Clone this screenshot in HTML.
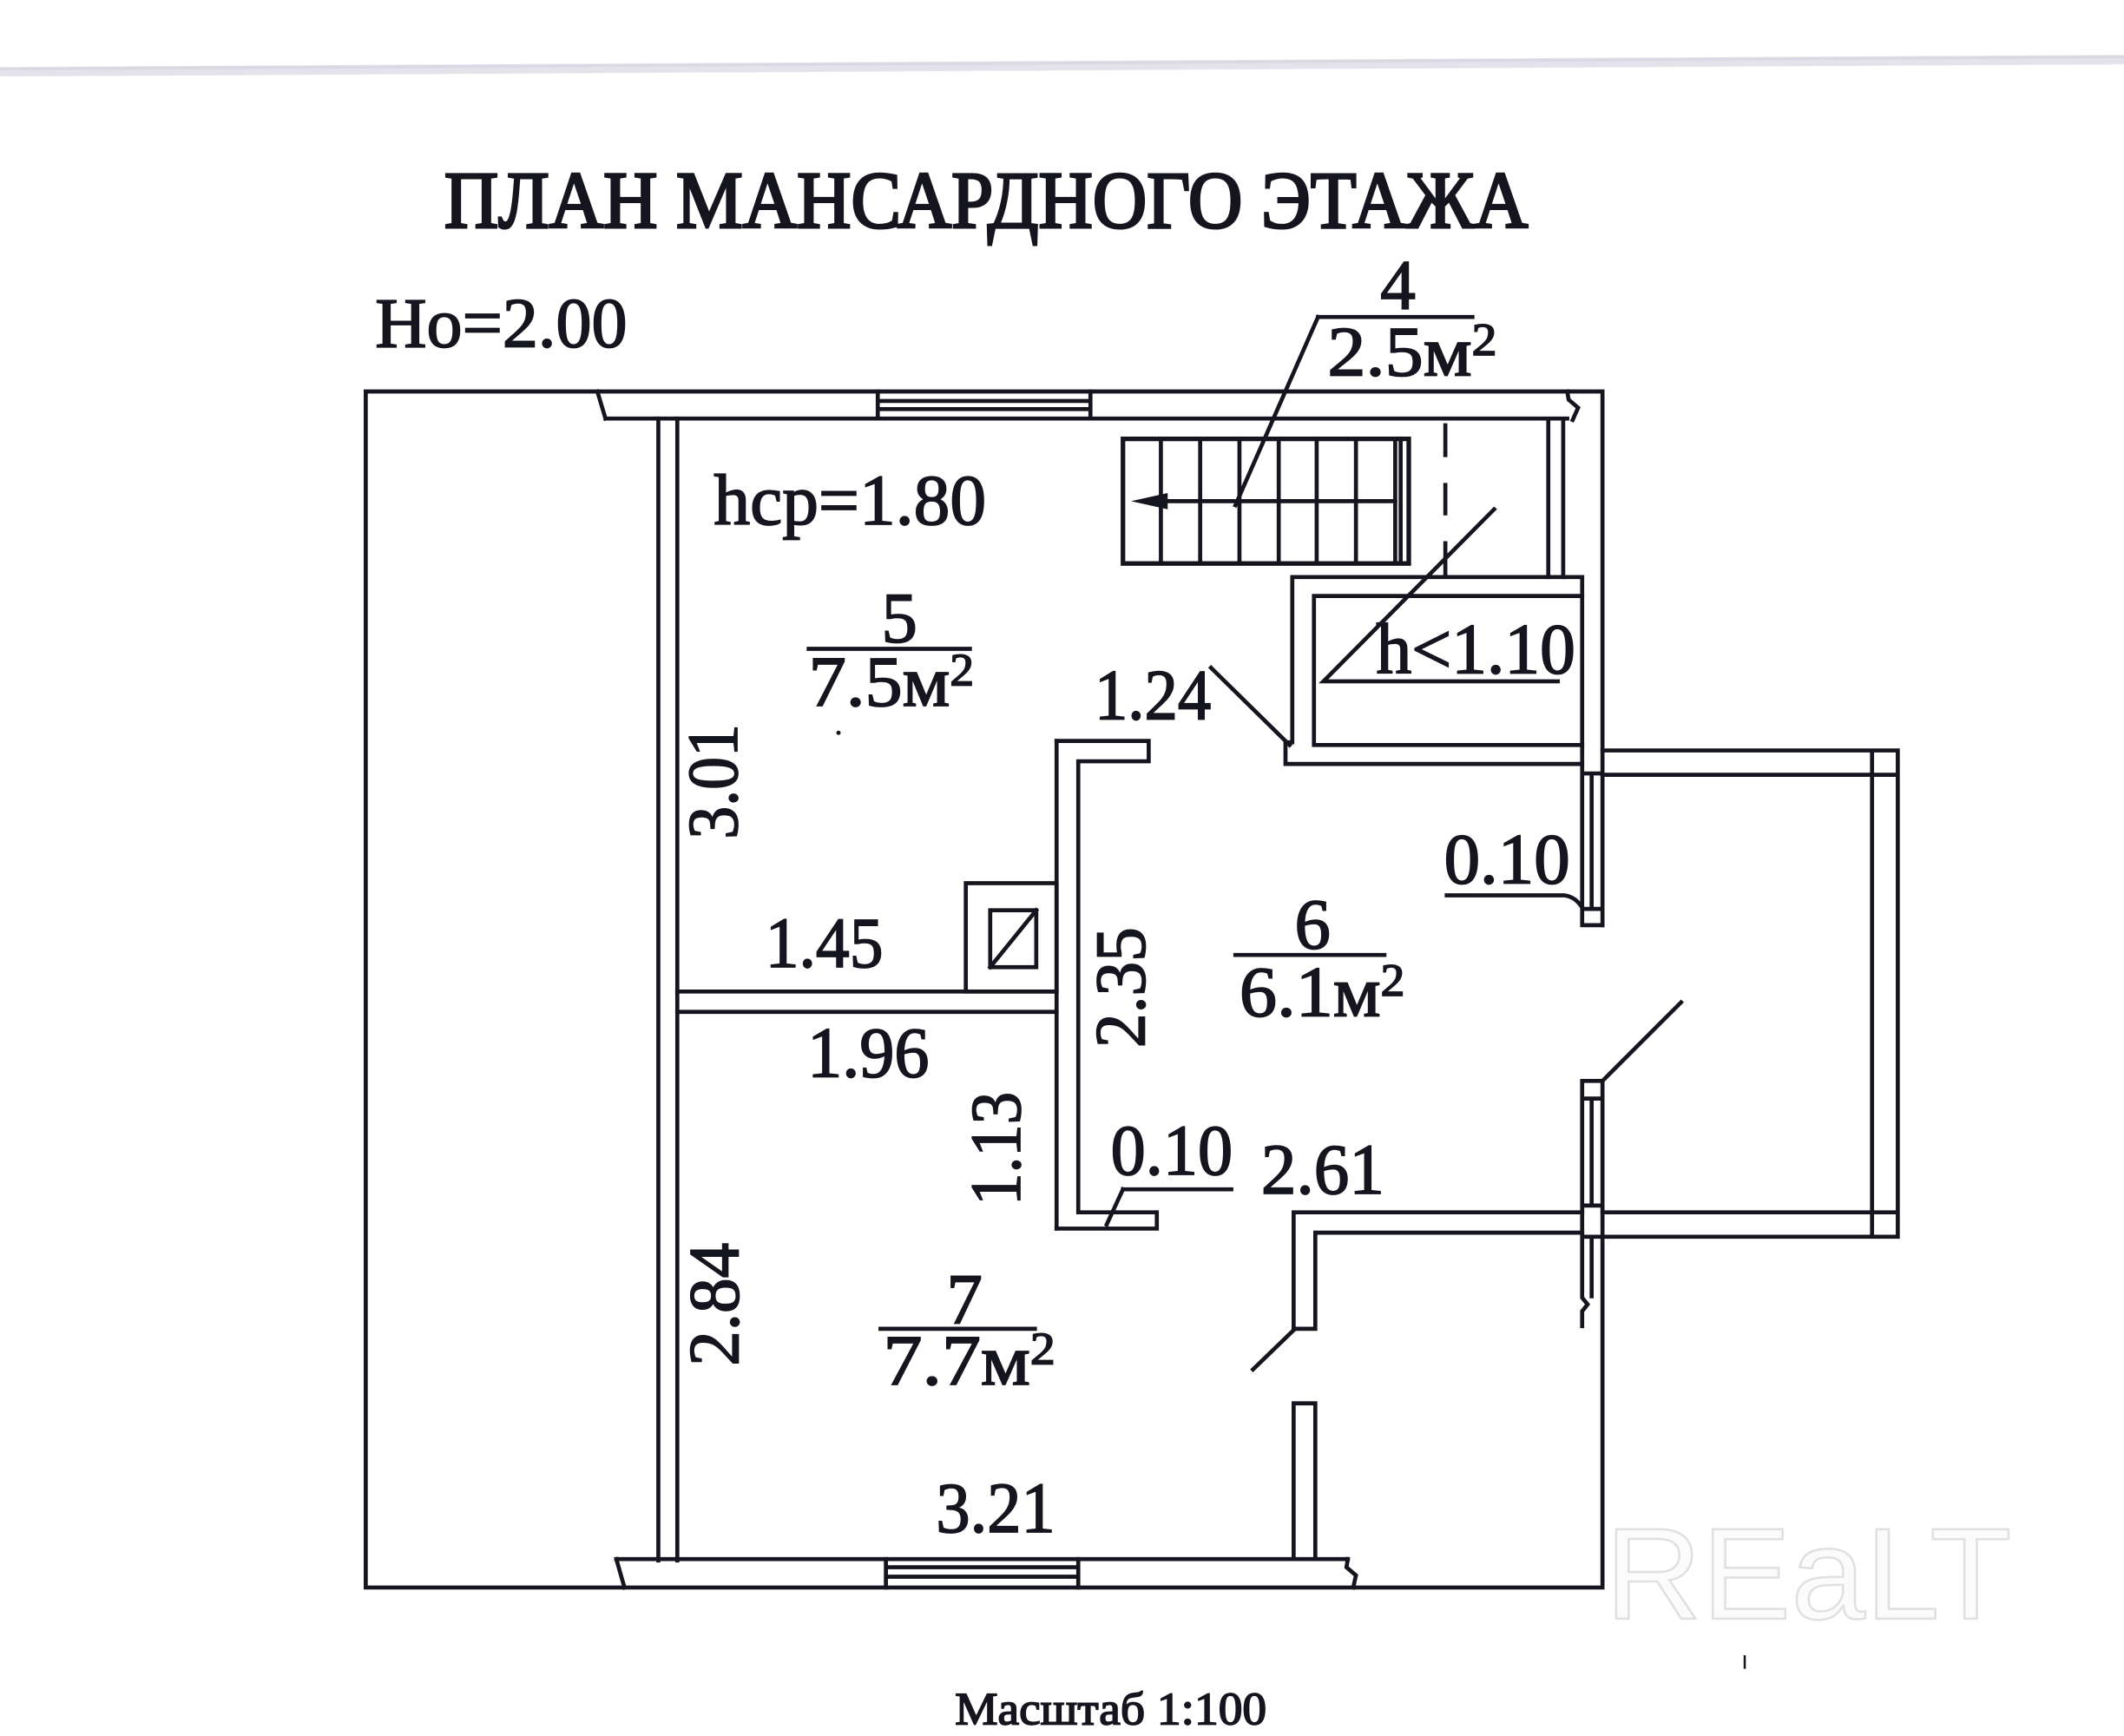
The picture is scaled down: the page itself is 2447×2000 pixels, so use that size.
<!DOCTYPE html>
<html>
<head>
<meta charset="utf-8">
<style>
html,body{margin:0;padding:0;background:#fff;}
svg{display:block;}
text{font-family:"Liberation Serif","DejaVu Serif",serif;fill:#15151f;stroke:#15151f;stroke-width:1.1;}
</style>
</head>
<body>
<svg width="2447" height="2000" viewBox="0 0 1568 1281.6" preserveAspectRatio="none" xmlns="http://www.w3.org/2000/svg">
<rect x="0" y="0" width="1568" height="1281.6" fill="#fff"/>
<!-- scan edge band -->
<path d="M0 53 L1568 44" stroke="#e4e3ec" stroke-width="7" fill="none"/>
<path d="M0 51 L1568 42" stroke="#d9d8e3" stroke-width="2" fill="none"/>

<!-- watermark -->
<text x="1185" y="1195" style="font-family:'Liberation Sans',sans-serif;fill:#fbfbfb;stroke:#e0e0e0;stroke-width:1.6" font-size="96" textLength="300" lengthAdjust="spacingAndGlyphs">REaLT</text>

<!-- Title -->
<text x="328" y="168" font-size="60" textLength="800" lengthAdjust="spacingAndGlyphs" style="stroke-width:2">ПЛАН МАНСАРДНОГО ЭТАЖА</text>
<text x="277" y="256" font-size="52" textLength="186" lengthAdjust="spacingAndGlyphs">Ho=2.00</text>

<g stroke="#15151f" stroke-width="3" fill="none" stroke-linecap="square" stroke-linejoin="miter">
  <!-- outer -->
  <path d="M270 289 H1183 M270 289 V1172 H1183 M1183 289 V683 M1183 798 V1172"/>
  <!-- top wall -->
  <path d="M447 309 H1157 M441 289 L447 309"/>
  <path d="M1157 289 L1158 295 L1165 301 L1161 310"/>
  <path d="M648 289 V309 M805 289 V309 M648 296 H805 M648 302 H805"/>
  <!-- left inner wall -->
  <path d="M486 309 V1152 M500 309 V1152"/>
  <!-- bottom wall -->
  <path d="M455 1151 H995 M455 1151 L461 1172"/>
  <path d="M995 1151 L994 1157 L1001 1163 L999 1172"/>
  <path d="M654 1151 V1172 M796 1151 V1172 M654 1157 H796 M654 1164 H796"/>
  <!-- partition 5/6/7 -->
  <path d="M780 547 V907"/>
  <path d="M780 547 H848 V562 H796 V895 H854 V907 H780"/>
  <path d="M500 732 H780 M500 747 H780"/>
  <rect x="713" y="652" width="67" height="80"/>
  <rect x="731" y="672" width="34" height="42"/>
  <path d="M731 714 L765 672"/>
  <!-- room 7 right partition -->
  <path d="M955 1151 V1036 H971 V1151"/>
  <path d="M971 981 V910 H1168 M955 981 V895 H1168 M955 981 H971"/>
  <path d="M955 982 L925 1011"/>
  <!-- column B -->
  <path d="M1168 798 H1183 M1168 798 V958 L1172 963 L1168 968 V979 M1168 811 H1183 M1175 811 V890 M1168 890 H1183 M1168 913 H1183 M1175 913 V957"/>
  <!-- column A -->
  <path d="M1168 426 V683 H1183 M1168 571 H1183 M1168 671 H1183 M1175 571 V671"/>
  <!-- balcony -->
  <path d="M1183 554 H1401 V913 H1183 M1183 572 H1401 M1183 895 H1401 M1382 554 V913"/>
  <path d="M1183 798 L1241 740"/>
  <!-- small room h<1.10 -->
  <path d="M1168 426 H954 V548 H949 V564 H1168"/>
  <path d="M1168 440 H970 V550 H1168"/>
  <!-- wall right of stair -->
  <path d="M1143 310 V426 M1154 310 V426"/>
  <!-- dashed -->
  <path d="M1067 314 V336 M1067 358 V379 M1067 401 V424"/>
  <!-- stairs -->
  <rect x="829" y="324" width="211" height="92" stroke-width="3.4"/>
  <path d="M857 324 V416 M886 324 V416 M915 324 V416 M944 324 V416 M972 324 V416 M1001 324 V416 M1030 324 V416 M1034 324 V416"/>
  <path d="M860 370 H1030"/>
  <!-- leaders -->
  <path d="M1103 376 L977 503 H1150"/>
  <path d="M973 234 L912 373 M973 234 H1087"/>
  <path d="M894 493 L952 550"/>
  <path d="M1068 661 H1155 Q1163 662 1168 670"/>
  <path d="M829 878 H909 M829 878 L817 904"/>
  <!-- fraction bars -->
  <path d="M597 479 H716 M912 705 H1022 M650 981 H764"/>
</g>
<polygon points="835,370 862,364 862,376" fill="#15151f"/>
<circle cx="619" cy="541" r="1.6" fill="#15151f"/>
<path d="M1288 1222 V1232" stroke="#15151f" stroke-width="1.6"/>

<!-- labels -->
<g font-size="53">
  <text x="1032" y="228" text-anchor="middle" font-size="52">4</text>
  <text x="980" y="277" font-size="52" textLength="125" lengthAdjust="spacingAndGlyphs">2.5м<tspan font-size="34" dy="-15">2</tspan></text>
  <text x="527" y="387" textLength="201" lengthAdjust="spacingAndGlyphs">hcp=1.80</text>
  <text x="664" y="474" text-anchor="middle">5</text>
  <text x="597" y="521" textLength="122" lengthAdjust="spacingAndGlyphs">7.5м<tspan font-size="34" dy="-15">2</tspan></text>
  <text x="808" y="531" textLength="86" lengthAdjust="spacingAndGlyphs">1.24</text>
  <text x="565" y="714" textLength="87" lengthAdjust="spacingAndGlyphs">1.45</text>
  <text x="969" y="700" text-anchor="middle">6</text>
  <text x="915" y="750" textLength="122" lengthAdjust="spacingAndGlyphs">6.1м<tspan font-size="34" dy="-15">2</tspan></text>
  <text x="1066" y="652" textLength="93" lengthAdjust="spacingAndGlyphs">0.10</text>
  <text x="1016" y="497" textLength="147" lengthAdjust="spacingAndGlyphs">h&lt;1.10</text>
  <text x="596" y="795" textLength="90" lengthAdjust="spacingAndGlyphs">1.96</text>
  <text x="820" y="867" textLength="90" lengthAdjust="spacingAndGlyphs">0.10</text>
  <text x="931" y="881" textLength="91" lengthAdjust="spacingAndGlyphs">2.61</text>
  <text x="712" y="977" text-anchor="middle">7</text>
  <text x="652" y="1022" textLength="127" lengthAdjust="spacingAndGlyphs">7.7м<tspan font-size="34" dy="-15">2</tspan></text>
  <text x="691" y="1131" textLength="88" lengthAdjust="spacingAndGlyphs">3.21</text>
  <text transform="translate(544,577) rotate(-90)" x="0" y="0" text-anchor="middle" textLength="85" lengthAdjust="spacingAndGlyphs">3.01</text>
  <text transform="translate(845,729) rotate(-90)" x="0" y="0" text-anchor="middle" textLength="89" lengthAdjust="spacingAndGlyphs">2.35</text>
  <text transform="translate(753,848) rotate(-90)" x="0" y="0" text-anchor="middle" textLength="84" lengthAdjust="spacingAndGlyphs">1.13</text>
  <text transform="translate(545,963) rotate(-90)" x="0" y="0" text-anchor="middle" textLength="91" lengthAdjust="spacingAndGlyphs">2.84</text>
</g>
<text x="705" y="1273" font-size="34" textLength="230" lengthAdjust="spacingAndGlyphs">Масштаб 1:100</text>
</svg>
</body>
</html>
